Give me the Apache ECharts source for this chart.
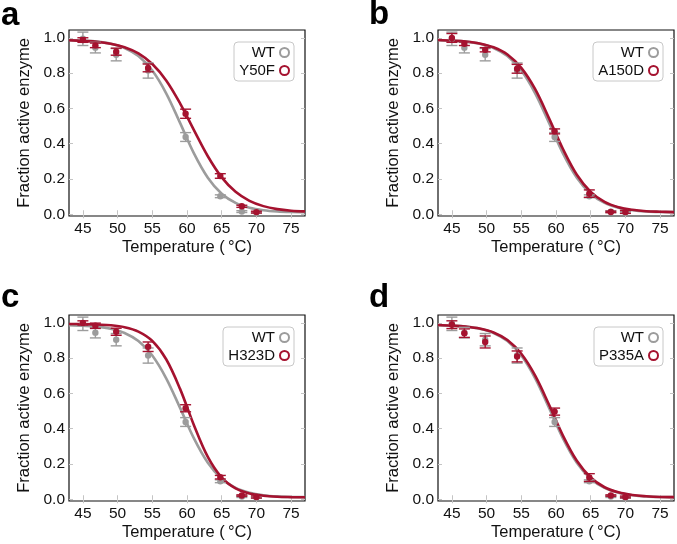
<!DOCTYPE html>
<html><head><meta charset="utf-8">
<script src="https://cdn.jsdelivr.net/npm/echarts@6/dist/echarts.min.js"></script>
<style>html,body{margin:0;padding:0;background:#fff}#c{width:677px;height:544px}</style>
</head><body><div id="c"></div>
<script>
// ---- data ----
const temps = [45, 46.8, 49.8, 54.4, 59.8, 64.8, 67.9, 70.0];
const wtMean = [0.995, 0.945, 0.905, 0.815, 0.438, 0.102, 0.015, 0.010];
const wtErr  = [0.038, 0.030, 0.035, 0.043, 0.025, 0.008, 0.005, 0.004];
const y50fMean = [0.988, 0.958, 0.922, 0.830, 0.570, 0.217, 0.045, 0.012];
const y50fErr  = [0.013, 0.013, 0.020, 0.022, 0.026, 0.013, 0.006, 0.005];
const a150dMean = [1.000, 0.967, 0.933, 0.825, 0.470, 0.117, 0.013, 0.013];
const a150dErr  = [0.025, 0.010, 0.012, 0.025, 0.014, 0.021, 0.004, 0.008];
const h323dMean = [1.000, 0.984, 0.950, 0.865, 0.516, 0.125, 0.021, 0.013];
const h323dErr  = [0.012, 0.015, 0.020, 0.027, 0.020, 0.010, 0.004, 0.006];
const p335aMean = [0.990, 0.942, 0.892, 0.810, 0.497, 0.123, 0.021, 0.013];
const p335aErr  = [0.022, 0.024, 0.034, 0.031, 0.020, 0.022, 0.004, 0.005];

const fitTemps = [43, 45, 47, 49, 51, 53, 55, 57, 59, 61, 63, 65, 67, 69, 71, 73, 75, 77];
const wtFit    = [0.987, 0.984, 0.979, 0.967, 0.943, 0.897, 0.815, 0.686, 0.518, 0.345, 0.207, 0.116, 0.064, 0.037, 0.023, 0.016, 0.013, 0.012];
const y50fFit  = [0.987, 0.983, 0.978, 0.967, 0.947, 0.912, 0.852, 0.759, 0.629, 0.477, 0.329, 0.209, 0.127, 0.076, 0.046, 0.029, 0.020, 0.016];
const a150dFit = [0.988, 0.985, 0.980, 0.969, 0.947, 0.906, 0.830, 0.709, 0.544, 0.370, 0.224, 0.127, 0.070, 0.040, 0.025, 0.017, 0.014, 0.012];
const h323dFit = [0.994, 0.994, 0.991, 0.987, 0.976, 0.951, 0.898, 0.794, 0.626, 0.420, 0.240, 0.123, 0.062, 0.033, 0.020, 0.014, 0.012, 0.011];
const p335aFit = [0.988, 0.985, 0.979, 0.968, 0.946, 0.903, 0.825, 0.701, 0.536, 0.361, 0.218, 0.123, 0.068, 0.039, 0.024, 0.017, 0.013, 0.012];

const xTicks = [45, 50, 55, 60, 65, 70, 75];
const yTicks = [0, 0.2, 0.4, 0.6, 0.8, 1.0];
const panelLetters = ['a', 'b', 'c', 'd'];
const mutantNames = ['Y50F', 'A150D', 'H323D', 'P335A'];
const xLabel = 'Temperature (\u2009\u00b0C)';
const yLabel = 'Fraction active enzyme';

// ---- styling / layout ----
const FONT = '"Liberation Sans", Arial, Helvetica, sans-serif';
const RED = '#a5122f';
const GRAY = '#9c9c9c';
const TICK = '#c4c4c4';
const layout = [
  {left: 69, top: 30, lx: 1, ly: 16, legRight: 383, legTop: 42, legW: 37},
  {left: 438, top: 30, lx: 369, ly: 15, legRight: 14, legTop: 42, legW: 47},
  {left: 69, top: 315, lx: 1, ly: 298, legRight: 383, legTop: 327, legW: 48},
  {left: 438, top: 315, lx: 369, ly: 298, legRight: 14, legTop: 327, legW: 46}
];
const mutMeans = [y50fMean, a150dMean, h323dMean, p335aMean];
const mutErrs = [y50fErr, a150dErr, h323dErr, p335aErr];
const mutFits = [y50fFit, a150dFit, h323dFit, p335aFit];

function pts(means, errs) { return temps.map((t, i) => [t, means[i], errs[i]]); }
function curve(vals) { return fitTemps.map((t, i) => [t, vals[i]]); }

function errRender(color) {
  return function (params, api) {
    const x = api.value(0), y = api.value(1), e = api.value(2);
    const p = api.coord([x, y]);
    const t = api.coord([x, y + e]);
    const b = api.coord([x, y - e]);
    const w = 5.5;
    const ls = {stroke: color, lineWidth: 1.4};
    return {type: 'group', children: [
      {type: 'line', shape: {x1: p[0], y1: t[1], x2: p[0], y2: b[1]}, style: ls},
      {type: 'line', shape: {x1: p[0] - w, y1: t[1], x2: p[0] + w, y2: t[1]}, style: ls},
      {type: 'line', shape: {x1: p[0] - w, y1: b[1], x2: p[0] + w, y2: b[1]}, style: ls},
      {type: 'circle', shape: {cx: p[0], cy: p[1], r: 3.2}, style: {fill: color}}
    ]};
  };
}

const grid = [], xAxis = [], yAxis = [], series = [], legend = [], graphic = [];
layout.forEach((L, i) => {
  grid.push({left: L.left, top: L.top, width: 236, height: 186, show: true,
    borderColor: '#111', borderWidth: 1.2, backgroundColor: '#fff'});
  const common = {type: 'value', gridIndex: i, min: 43, max: 77, splitLine: {show: false}, axisLine: {show: false}};
  xAxis.push(Object.assign({}, common, {
    position: 'bottom',
    name: xLabel, nameLocation: 'middle', nameGap: 23,
    nameTextStyle: {fontFamily: FONT, fontSize: 16.5, color: '#111'},
    axisTick: {show: true, inside: true, length: 4, lineStyle: {color: TICK}, customValues: xTicks},
    axisLabel: {show: true, margin: 5, fontFamily: FONT, fontSize: 15.5, color: '#111', customValues: xTicks, formatter: v => String(v)}
  }));
  xAxis.push(Object.assign({}, common, {
    position: 'top',
    axisTick: {show: true, inside: true, length: 4, lineStyle: {color: TICK}, customValues: xTicks},
    axisLabel: {show: false}
  }));
  const ycommon = {type: 'value', gridIndex: i, min: -0.01, max: 1.045, splitLine: {show: false}, axisLine: {show: false}};
  yAxis.push(Object.assign({}, ycommon, {
    position: 'left',
    name: yLabel, nameLocation: 'middle', nameGap: 36, nameRotate: 90,
    nameTextStyle: {fontFamily: FONT, fontSize: 16.5, color: '#111'},
    axisTick: {show: true, inside: true, length: 4, lineStyle: {color: TICK}, customValues: yTicks},
    axisLabel: {show: true, margin: 4, fontFamily: FONT, fontSize: 15.5, color: '#111', customValues: yTicks, formatter: v => v.toFixed(1)}
  }));
  yAxis.push(Object.assign({}, ycommon, {
    position: 'right',
    axisTick: {show: true, inside: true, length: 4, lineStyle: {color: TICK}, customValues: yTicks},
    axisLabel: {show: false}
  }));
  const xi = 2 * i, yi = 2 * i;
  const mut = mutantNames[i];
  series.push({type: 'line', name: 'WT fit', xAxisIndex: xi, yAxisIndex: yi, data: curve(wtFit),
    smooth: 0.35, showSymbol: false, silent: true, lineStyle: {color: GRAY, width: 2.6}, z: 2});
  series.push({type: 'line', name: mut + ' fit', xAxisIndex: xi, yAxisIndex: yi, data: curve(mutFits[i]),
    smooth: 0.35, showSymbol: false, silent: true, lineStyle: {color: RED, width: 2.6}, z: 3});
  series.push({type: 'custom', name: 'WT', xAxisIndex: xi, yAxisIndex: yi, data: pts(wtMean, wtErr),
    encode: {x: 0, y: 1}, renderItem: errRender(GRAY), itemStyle: {color: GRAY}, clip: false, z: 4});
  series.push({type: 'custom', name: mut, xAxisIndex: xi, yAxisIndex: yi, data: pts(mutMeans[i], mutErrs[i]),
    encode: {x: 0, y: 1}, renderItem: errRender(RED), itemStyle: {color: RED}, clip: false, z: 5});
  legend.push({
    orient: 'vertical', right: L.legRight, top: L.legTop, align: 'right',
    itemWidth: 9, itemHeight: 9, itemGap: 3, padding: [3, 4, 3, 4],
    borderColor: '#c8c8c8', borderWidth: 1, borderRadius: 4, backgroundColor: '#fff',
    selectedMode: false, z: 10,
    data: [
      {name: 'WT', icon: 'circle', itemStyle: {color: '#fff', borderColor: GRAY, borderWidth: 2}},
      {name: mut, icon: 'circle', itemStyle: {color: '#fff', borderColor: RED, borderWidth: 2}}
    ],
    formatter: n => '{t|' + n + '}',
    textStyle: {rich: {t: {width: L.legW, align: 'right', fontSize: 15, lineHeight: 15, fontFamily: FONT, color: '#111'}}}
  });
  graphic.push({type: 'text', x: L.lx, y: L.ly, style: {text: panelLetters[i],
    font: 'bold 33px ' + FONT, fill: '#000', verticalAlign: 'middle', align: 'left'}});
});

const chart = echarts.init(document.getElementById('c'), null, {renderer: 'canvas'});
chart.setOption({animation: false, backgroundColor: '#fff', grid, xAxis, yAxis, series, legend, graphic});
</script></body></html>
